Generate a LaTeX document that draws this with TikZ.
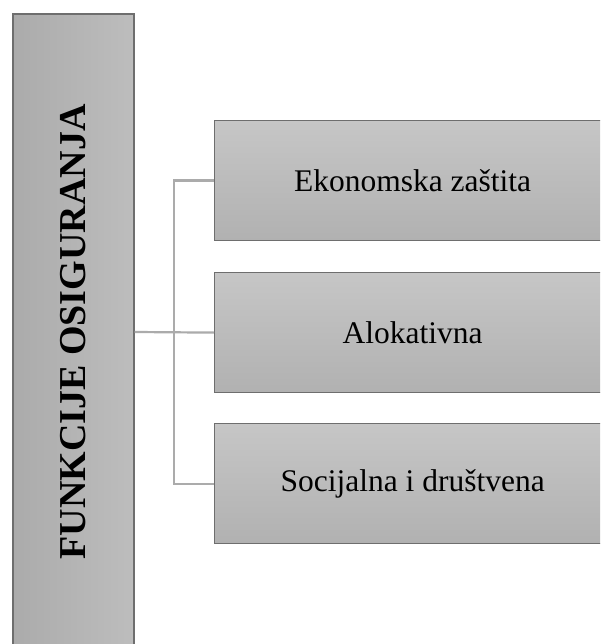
\documentclass[tikz,border=0pt]{standalone}
\usepackage{fontspec}
\setmainfont{Liberation Serif}
\usetikzlibrary{positioning}
\definecolor{boxline}{HTML}{6E6E6E}
\definecolor{linkgray}{HTML}{ABABAB}
\definecolor{boxtop}{HTML}{C6C6C6}
\definecolor{boxbottom}{HTML}{B1B1B1}
\definecolor{maintop}{HTML}{BDBDBD}
\definecolor{mainbottom}{HTML}{ABABAB}
\tikzset{
  funcbox/.style={draw=boxline, line width=1.2pt, top color=boxtop, bottom color=boxbottom,
    minimum width=396pt, minimum height=120pt, inner sep=0pt, anchor=north west,
    font=\fontsize{31.5}{36}\selectfont},
  mainbox/.style={draw=boxline, line width=1.2pt, right color=maintop, left color=mainbottom,
    rotate=90, minimum width=636pt, minimum height=121pt, inner sep=0pt,
    font=\fontsize{38}{42}\selectfont\bfseries},
  link/.style={draw=linkgray, line width=2.2pt}
}
\begin{document}
\begin{tikzpicture}[x=1pt, y=-1pt]
    \useasboundingbox (0,0) rectangle (600,644);
    \clip (0,0) rectangle (600,644);

    % main box on the left
    \node[mainbox] (main) at (73.5,332) {FUNKCIJE OSIGURANJA};

    % the three functions
    \node[funcbox] (econ) at (214,120) {Ekonomska zaštita};
    \node[funcbox] (aloc) at (214,272) {Alokativna};
    \node[funcbox] (soc) at (214,423) {Socijalna i društvena};

    % connectors
    \draw[link] (main.south) -- (aloc.west);
    \draw[link] (econ.west) -- ++(-40,0) |- (soc.west);
\end{tikzpicture}
\end{document}
